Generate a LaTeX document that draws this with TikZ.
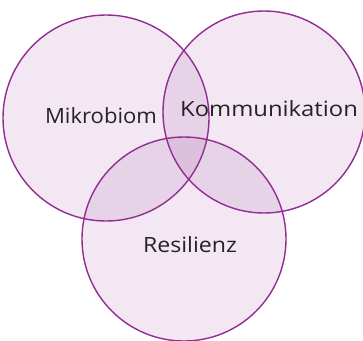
\documentclass[tikz,border=0pt]{standalone}
\usepackage{fontspec}
\setmainfont{Open Sans}
\usepackage{tikz}
\usetikzlibrary{positioning,shapes}

\definecolor{rand}{RGB}{145,45,145}
\definecolor{flaeche}{RGB}{150,60,150}
\definecolor{schrift}{RGB}{35,35,35}

\begin{document}
\begin{tikzpicture}[x=1pt,y=-1pt]
	\tikzset{menge/.style={circle,draw=rand,line width=1.4pt,fill=flaeche,fill opacity=0.12,inner sep=0pt}}
	\tikzset{wort/.style={text=schrift,font=\fontsize{21}{24}\selectfont,xscale=1.05,inner sep=0pt}}
	\useasboundingbox (0,0) rectangle (363,340);

	%% Draw the three sets
	\node[menge,minimum size=206pt] (mikro) at (106,118) {};
	\node[menge,minimum size=202pt] (komm) at (264,112) {};
	\node[menge,minimum size=204pt] (resil) at (184,239) {};

	%% Labels
	\node[wort] (lmikro) at (101,116) {Mikrobiom};
	\node[wort,xscale=1.08] (lkomm) at (269,109) {Kommunikation};
	\node[wort,xscale=1.05] (lresil) at (190,245) {Resilienz};
\end{tikzpicture}
\end{document}
